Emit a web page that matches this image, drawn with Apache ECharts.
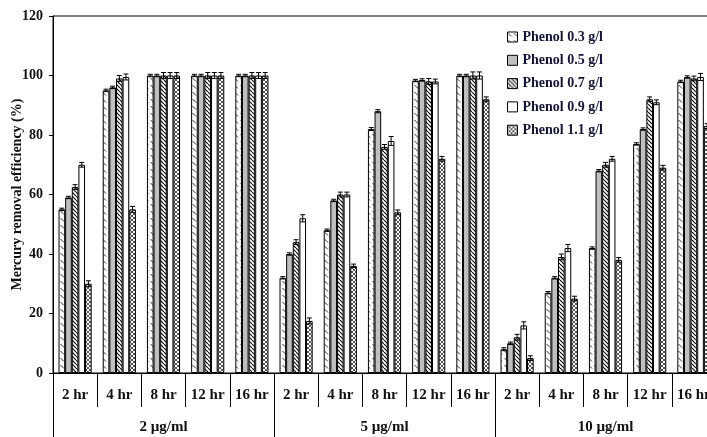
<!DOCTYPE html>
<html>
<head>
<meta charset="utf-8">
<script src="https://cdn.jsdelivr.net/npm/echarts@6/dist/echarts.min.js"></script>
<style>
  html, body { margin: 0; padding: 0; background: #fff; }
  #chart { width: 707px; height: 437px; }
</style>
</head>
<body>
<div id="chart"></div>
<script>
// Sampling times, repeated for each initial mercury concentration
const categories = ['2 hr', '4 hr', '8 hr', '12 hr', '16 hr',
                    '2 hr', '4 hr', '8 hr', '12 hr', '16 hr',
                    '2 hr', '4 hr', '8 hr', '12 hr', '16 hr'];
const groups = ['2 µg/ml', '5 µg/ml', '10 µg/ml'];
const seriesNames = ['Phenol 0.3 g/l', 'Phenol 0.5 g/l', 'Phenol 0.7 g/l', 'Phenol 0.9 g/l', 'Phenol 1.1 g/l'];
const yTicks = [0, 20, 40, 60, 80, 100, 120];

// Mercury removal efficiency (%) per phenol dose
const phenol03 = [55, 95, 100, 100, 100, 32, 48, 82, 98.3, 100, 8, 27, 42, 77, 98];
const phenol05 = [59, 96, 100, 100, 100, 40, 58, 88, 98.5, 100, 10, 32, 68, 82, 99.5];
const phenol07 = [62.5, 99, 100, 100, 100, 44, 60, 76, 98, 100, 12, 39, 70, 92, 99];
const phenol09 = [70, 99.5, 100, 100, 100, 52, 60, 78, 98, 100, 16, 42, 72, 91, 99.5];
const phenol11 = [30, 55, 100, 100, 100, 17.5, 36, 54, 72, 92, 5, 25, 38, 69, 83];

// Standard deviations
const err03 = [0.4, 0.4, 0.4, 0.4, 0.4, 0.4, 0.4, 0.5, 0.4, 0.4, 0.5, 0.4, 0.4, 0.4, 0.4];
const err05 = [0.4, 0.4, 0.4, 0.4, 0.4, 0.4, 0.4, 0.5, 0.4, 0.4, 0.4, 0.4, 0.4, 0.4, 0.4];
const err07 = [0.8, 1, 1, 1, 1, 0.8, 0.8, 0.8, 1, 1.2, 1, 1, 0.8, 0.8, 0.8];
const err09 = [0.8, 1, 1, 1, 1, 1.2, 0.8, 1.5, 0.8, 1.2, 1.2, 1.2, 0.8, 0.8, 1.2];
const err11 = [1, 1, 1, 1, 1, 1, 0.6, 0.8, 0.8, 0.8, 0.8, 0.8, 0.8, 0.8, 0.8];

const values = [phenol03, phenol05, phenol07, phenol09, phenol11];
const errors = [err03, err05, err07, err09, err11];

const FONT = '"Liberation Serif", "Times New Roman", serif';
const CAT_GAP = 0.25;

// Fill patterns for the bars
function tile(w, h, draw) {
  const c = document.createElement('canvas');
  c.width = w; c.height = h;
  const g = c.getContext('2d');
  g.fillStyle = '#fff';
  g.fillRect(0, 0, w, h);
  draw(g, w, h);
  return c;
}
const sparseDash = tile(6, 7, (g) => {
  g.strokeStyle = '#333'; g.lineWidth = 1;
  g.beginPath(); g.moveTo(0.5, 1); g.lineTo(4, 4.5); g.stroke();
});
const denseHatch = tile(4, 4, (g) => {
  g.strokeStyle = '#111'; g.lineWidth = 1.2;
  g.beginPath();
  for (let o = -4; o <= 4; o += 4) { g.moveTo(o, 0); g.lineTo(o + 4, 4); }
  g.stroke();
});
const crossHatch = tile(4, 4, (g) => {
  g.strokeStyle = '#555'; g.lineWidth = 1;
  g.beginPath();
  for (let o = -4; o <= 4; o += 4) {
    g.moveTo(o, 0); g.lineTo(o + 4, 4);
    g.moveTo(o + 4, 0); g.lineTo(o, 4);
  }
  g.stroke();
});
const fills = [
  { image: sparseDash, repeat: 'repeat' },
  '#bfbfbf',
  { image: denseHatch, repeat: 'repeat' },
  '#ffffff',
  { image: crossHatch, repeat: 'repeat' }
];

const barSeries = seriesNames.map((name, k) => ({
  name: name,
  type: 'bar',
  xAxisIndex: 0,
  barGap: '0%',
  barCategoryGap: (CAT_GAP * 100) + '%',
  data: values[k],
  itemStyle: { color: fills[k], borderColor: '#000', borderWidth: 1 },
  emphasis: { disabled: true },
  z: 2
}));

function errorRenderer(k) {
  return function (params, api) {
    const idx = api.value(0);
    const v = api.value(1);
    const e = api.value(2);
    const hi = api.coord([idx, v + e]);
    const lo = api.coord([idx, v - e]);
    const catW = api.size([1, 0])[0];
    const bw = catW * (1 - CAT_GAP) / 5;
    const x = hi[0] + (k - 2) * bw;
    const cap = 2.5;
    const style = { stroke: '#000', lineWidth: 1 };
    return {
      type: 'group',
      children: [
        { type: 'line', shape: { x1: x, y1: hi[1], x2: x, y2: lo[1] }, style: style },
        { type: 'line', shape: { x1: x - cap, y1: hi[1], x2: x + cap, y2: hi[1] }, style: style },
        { type: 'line', shape: { x1: x - cap, y1: lo[1], x2: x + cap, y2: lo[1] }, style: style }
      ]
    };
  };
}

const errSeries = values.map((vals, k) => ({
  name: 'sd' + k,
  type: 'custom',
  xAxisIndex: 0,
  renderItem: errorRenderer(k),
  data: vals.map((v, i) => [i, v, errors[k][i]]),
  encode: { x: 0, y: 1 },
  silent: true,
  z: 5
}));

const chart = echarts.init(document.getElementById('chart'), null, { renderer: 'canvas' });
chart.setOption({
  animation: false,
  backgroundColor: '#fff',
  grid: {
    left: 53, right: -9, top: 16, bottom: 64,
    containLabel: false,
    outerBoundsMode: 'none',
    show: true, borderColor: '#000', borderWidth: 1, backgroundColor: 'transparent'
  },
  legend: {
    data: seriesNames,
    orient: 'vertical',
    left: 502, top: 25,
    itemWidth: 10, itemHeight: 10,
    itemGap: 9.3,
    icon: 'rect',
    itemStyle: { borderColor: '#000', borderWidth: 1 },
    textStyle: { fontFamily: FONT, fontWeight: 'bold', fontSize: 14, lineHeight: 14, color: '#14143a' },
    selectedMode: false
  },
  xAxis: [
    {
      type: 'category',
      data: categories,
      position: 'bottom',
      axisLine: { lineStyle: { color: '#000', width: 1 } },
      axisTick: { show: true, interval: 0, length: 34, lineStyle: { color: '#000' } },
      axisLabel: { interval: 0, margin: 15, fontFamily: FONT, fontWeight: 'bold', fontSize: 15, color: '#111' },
      splitLine: { show: false }
    },
    {
      type: 'category',
      data: groups,
      position: 'bottom',
      axisLine: { show: false },
      axisTick: { show: true, interval: 0, length: 64, lineStyle: { color: '#000' } },
      axisLabel: { interval: 0, margin: 47, fontFamily: FONT, fontWeight: 'bold', fontSize: 15, color: '#111' },
      splitLine: { show: false }
    }
  ],
  yAxis: {
    type: 'value',
    min: yTicks[0],
    max: yTicks[yTicks.length - 1],
    interval: 20,
    name: 'Mercury removal efficiency (%)',
    nameLocation: 'middle',
    nameGap: 29,
    nameMoveOverlap: false,
    nameTextStyle: { fontFamily: FONT, fontWeight: 'bold', fontSize: 14, color: '#111' },
    axisLine: { show: true, lineStyle: { color: '#000', width: 1 } },
    axisTick: { show: true, length: 4, lineStyle: { color: '#000' } },
    axisLabel: { margin: 10, fontFamily: FONT, fontWeight: 'bold', fontSize: 14, color: '#111' },
    splitLine: { show: false }
  },
  series: barSeries.concat(errSeries)
});
</script>
</body>
</html>
